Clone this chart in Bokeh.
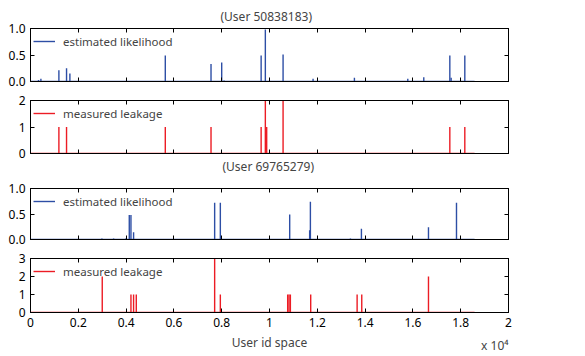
from bokeh.plotting import figure
from bokeh.models import (Range1d, FixedTicker, LinearAxis, Legend, LegendItem,
                          NumeralTickFormatter, Title)
from bokeh.layouts import column
from bokeh.embed import file_html
from bokeh.resources import INLINE

FONT = "Noto Sans"
BLUE = "#2d4ea5"
RED = "#ec1c24"

n_users = 18580
x_ticks = [0, 2000, 4000, 6000, 8000, 10000, 12000, 14000, 16000, 18000, 20000]
x_tick_labels = ["0", "0.2", "0.4", "0.6", "0.8", "1", "1.2", "1.4", "1.6", "1.8", "2"]

title_1 = "(User 50838183)"
u1_est_ids = [335, 435, 1188, 1508, 1648, 5640, 7553, 8000, 8100, 9650, 9826,
              10568, 11823, 13553, 15786, 16455, 17545, 17600, 18172]
u1_est_vals = [0.03, 0.05, 0.21, 0.25, 0.15, 0.49, 0.33, 0.36, 0.02, 0.49, 0.98,
               0.51, 0.05, 0.07, 0.05, 0.08, 0.49, 0.07, 0.49]
u1_leak_ids = [1188, 1508, 5640, 7553, 9650, 9826, 9882, 10568, 17545, 18172]
u1_leak_vals = [1, 1, 1, 1, 1, 2, 1, 2, 1, 1]

title_2 = "(User 69765279)"
u2_est_ids = [2988, 3477, 4008, 4133, 4203, 4313, 7705, 7943, 10845, 11680,
              11711, 13386, 13846, 16652, 17824]
u2_est_vals = [0.02, 0.02, 0.03, 0.48, 0.48, 0.14, 0.72, 0.72, 0.49, 0.18,
               0.74, 0.02, 0.21, 0.24, 0.72]
u2_leak_ids = [3002, 4203, 4313, 4426, 7705, 7943, 10761, 10817, 10873, 11724,
               13666, 13860, 16652]
u2_leak_vals = [2, 1, 1, 1, 3, 1, 1, 1, 1, 1, 1, 1, 2]

x_label = "User id space"
x_scale = "x 10⁴"

FRAME_W = 478
LEFT = 30
RIGHT = 40


def blank_axis(ticks):
    return LinearAxis(ticker=FixedTicker(ticks=ticks), major_tick_in=4, major_tick_out=0,
                      minor_tick_line_color=None, major_label_text_font_size="0px",
                      major_label_overrides={t: "" for t in ticks},
                      major_label_standoff=0, axis_line_color="black",
                      major_tick_line_color="black")


def make_panel(ids, vals, color, label, ymax, yticks, fmt, frame_h, top, bottom,
               show_x_labels=False):
    p = figure(frame_width=FRAME_W, frame_height=frame_h, output_backend="svg",
               toolbar_location=None, x_range=Range1d(0, 20000),
               y_range=Range1d(0, ymax), min_border_left=LEFT,
               min_border_right=RIGHT, min_border_top=top, min_border_bottom=bottom,
               x_axis_location=None)
    p.xgrid.visible = False
    p.ygrid.visible = False
    p.outline_line_color = "black"
    p.outline_line_width = 1
    p.background_fill_color = "white"
    p.border_fill_color = "white"

    p.line([0, n_users], [0, 0], line_color=color, line_width=1.5)
    seg = p.segment(x0=ids, y0=[0] * len(ids), x1=ids, y1=vals,
                    line_color=color, line_width=1.4)

    if show_x_labels:
        xa = LinearAxis(ticker=FixedTicker(ticks=x_ticks), major_tick_in=4,
                        major_tick_out=0, minor_tick_line_color=None,
                        axis_line_color="black", major_tick_line_color="black",
                        major_label_text_font=FONT, major_label_text_font_size="12px",
                        major_label_text_color="black", major_label_standoff=5,
                        major_label_overrides={t: l for t, l in zip(x_ticks, x_tick_labels)})
    else:
        xa = blank_axis(x_ticks)
    p.add_layout(xa, "below")

    ya = p.yaxis[0]
    ya.major_tick_in = 4
    ya.major_tick_out = 0
    ya.minor_tick_line_color = None
    ya.axis_line_color = "black"
    ya.major_tick_line_color = "black"
    ya.major_label_text_font = FONT
    ya.major_label_text_font_size = "12px"
    ya.major_label_text_color = "black"
    ya.major_label_standoff = 5
    ya.ticker = FixedTicker(ticks=yticks)
    ya.formatter = NumeralTickFormatter(format=fmt)

    p.add_layout(blank_axis(yticks), "right")
    p.add_layout(blank_axis(x_ticks), "above")

    legend = Legend(items=[LegendItem(label=label, renderers=[seg])],
                    location="top_left", margin=3, padding=0,
                    glyph_width=22, label_standoff=8, glyph_height=20,
                    label_text_font=FONT, label_text_font_size="11.5px",
                    border_line_alpha=0, background_fill_alpha=0)
    p.add_layout(legend)
    return p


p1 = make_panel(u1_est_ids, u1_est_vals, BLUE, "estimated likelihood", 1.0,
                [0, 0.5, 1.0], "0.0", 53, 28, 11)
p1.title = Title(text=title_1, align="left", offset=190, text_font=FONT,
                 text_font_size="12px", text_font_style="normal", standoff=7)
p2 = make_panel(u1_leak_ids, u1_leak_vals, RED, "measured leakage", 2,
                [0, 1, 2], "0", 53, 8, 29)
p2.add_layout(Title(text=title_2, align="left", offset=192, text_font=FONT,
                    vertical_align="top", text_font_size="12px",
                    text_font_style="normal", standoff=9), "below")
p3 = make_panel(u2_est_ids, u2_est_vals, BLUE, "estimated likelihood", 1.0,
                [0, 0.5, 1.0], "0.0", 51, 6, 9)
p4 = make_panel(u2_leak_ids, u2_leak_vals, RED, "measured leakage", 3,
                [0, 1, 2, 3], "0", 54, 10, 44, show_x_labels=True)
xa4 = p4.below[0]
xa4.axis_label = x_label
xa4.axis_label_text_font = FONT
xa4.axis_label_text_font_size = "12px"
xa4.axis_label_text_font_style = "normal"
xa4.axis_label_standoff = 4
p4.add_layout(Title(text=x_scale, align="right", vertical_align="top", text_font=FONT,
                    text_font_size="12px", text_font_style="normal", standoff=-34),
              "below")

layout = column(p1, p2, p3, p4, spacing=0)
open("out.html", "w").write(file_html(layout, INLINE))
